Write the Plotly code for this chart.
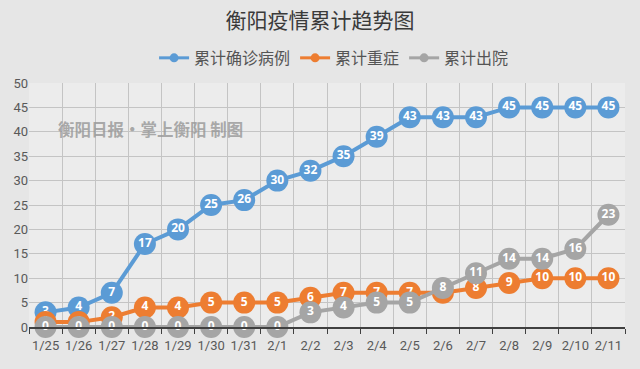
import plotly.graph_objects as go

dates = ["1/25","1/26","1/27","1/28","1/29","1/30","1/31","2/1","2/2","2/3","2/4","2/5","2/6","2/7","2/8","2/9","2/10","2/11"]
confirmed = [3,4,7,17,20,25,26,30,32,35,39,43,43,43,45,45,45,45]
severe = [1,1,2,4,4,5,5,5,6,7,7,7,7,8,9,10,10,10]
discharged = [0,0,0,0,0,0,0,0,3,4,5,5,8,11,14,14,16,23]

names = ["累计确诊病例", "累计重症", "累计出院"]
colors = ["#5B9BD5", "#ED7D31", "#A5A5A5"]
series = [confirmed, severe, discharged]

CJK = "Noto Sans CJK SC"

fig = go.Figure()
for name, vals, c in zip(names, series, colors):
    fig.add_trace(go.Scatter(
        x=dates, y=vals, name=name, mode="lines+markers+text", showlegend=False,
        line=dict(color=c, width=4),
        marker=dict(color=c, size=22, line=dict(width=0)),
        text=[str(v) for v in vals], textposition="middle center",
        textfont=dict(color="white", size=12, family="Open Sans", weight="bold"),
        cliponaxis=False, hoverinfo="skip",
    ))
for name, c in zip(names, colors):
    fig.add_trace(go.Scatter(
        x=[None], y=[None], name=name, mode="lines+markers",
        line=dict(color=c, width=3), marker=dict(color=c, size=9),
    ))

fig.update_layout(
    width=640, height=369,
    margin=dict(l=29, r=15, t=83, b=42, autoexpand=False),
    paper_bgcolor="#e6e6e6",
    plot_bgcolor="#ececec",
    title=dict(text="衡阳疫情累计趋势图", x=0.5, xanchor="center", xref="container",
               y=0.945, yanchor="middle", yref="container",
               font=dict(family=CJK, size=21, color="#3a3a3a")),
    legend=dict(orientation="h", x=0.522, xanchor="center", xref="container",
                y=0.843, yanchor="middle", yref="container",
                font=dict(family=CJK, size=16, color="#555555"), bgcolor="rgba(0,0,0,0)",
                traceorder="normal"),
    showlegend=True,
    font=dict(family="Open Sans", color="#595959"),
)
fig.update_xaxes(
    type="category", tickson="boundaries", showgrid=True, gridcolor="#c4c4c4", gridwidth=1,
    ticks="outside", ticklen=5, tickcolor="#404040", showline=True, linecolor="#404040", linewidth=2,
    tickfont=dict(size=13, color="#595959", family="Roboto"), tickangle=0, range=[-0.5, 17.5],
    ticklabelstandoff=5,
)
fig.update_yaxes(
    range=[0, 50], dtick=5, showgrid=True, gridcolor="#c4c4c4", gridwidth=1,
    zeroline=False, showline=False, tickfont=dict(size=13, color="#595959", family="Roboto"), ticks="",
)
fig.add_annotation(
    text="衡阳日报·掌上衡阳 制图", xref="paper", yref="paper", x=0.045, y=0.81,
    xanchor="left", yanchor="middle", showarrow=False,
    font=dict(family=CJK, size=16.5, color="rgba(150,150,150,0.8)", weight="bold"),
)

fig.write_html("out.html", config={"displayModeBar": False},
               post_script="document.body.style.margin='0';document.body.style.background='#e6e6e6';")
